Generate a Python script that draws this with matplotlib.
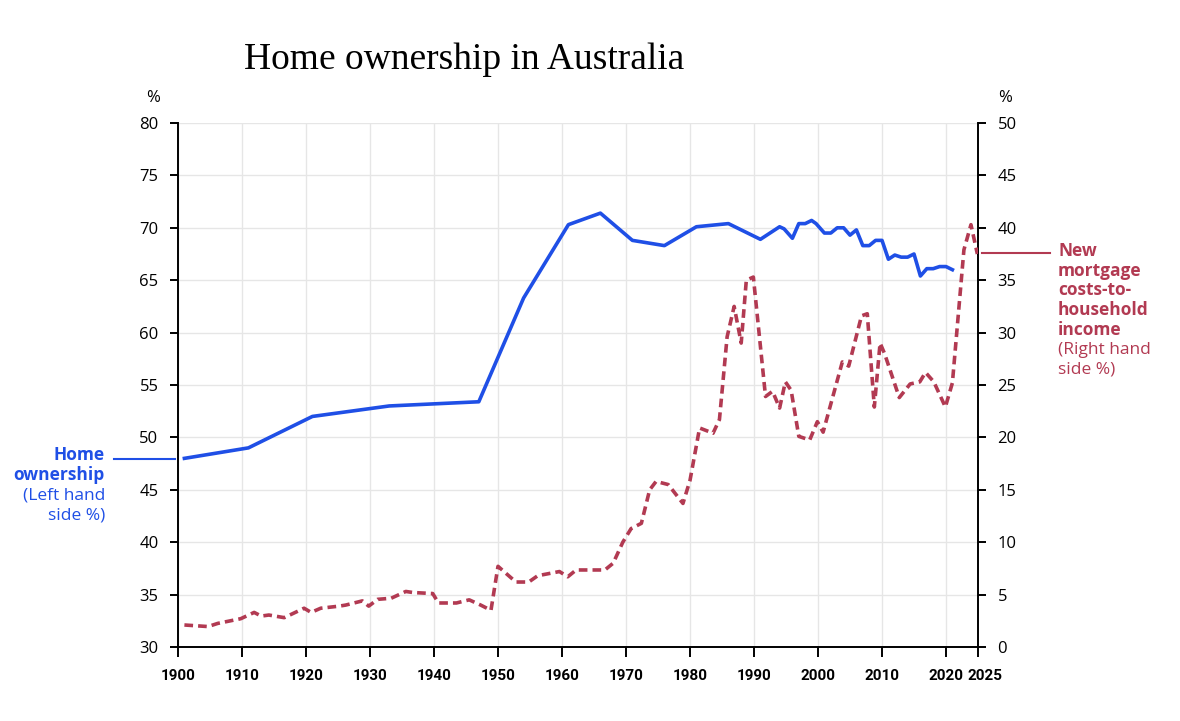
import matplotlib.pyplot as plt
import numpy as np

# Home ownership rate (left axis, %)
own_years = [1901, 1911, 1921, 1933, 1947, 1954, 1961, 1966, 1971, 1976, 1981, 1986,
             1991, 1994, 1994.7, 1996, 1997, 1998, 1999, 1999.7, 2001, 2002, 2003, 2004,
             2005, 2006, 2007, 2008, 2009, 2010, 2011, 2012, 2013, 2014, 2015, 2016,
             2017, 2018, 2019, 2020, 2021]
own_pct = [48.0, 49.0, 52.0, 53.0, 53.4, 63.3, 70.3, 71.4, 68.8, 68.3, 70.1, 70.4,
           68.9, 70.1, 69.9, 69.0, 70.4, 70.4, 70.7, 70.4, 69.5, 69.5, 70.0, 70.0,
           69.3, 69.8, 68.3, 68.3, 68.8, 68.8, 67.0, 67.4, 67.2, 67.2, 67.5, 65.4,
           66.1, 66.1, 66.3, 66.3, 66.0]

# New mortgage costs-to-household income (right axis, %)
mort_years = [1901, 1904.7, 1906.2, 1909.8, 1911.9, 1913, 1914.2, 1916.6, 1919.7, 1920.8,
              1922.3, 1925.2, 1926.2, 1928.8, 1929.8, 1931.2, 1933.3, 1935.6, 1936.7,
              1939.8, 1940.7, 1943.5, 1945.5, 1947.3, 1948.9, 1950, 1951.3, 1952.8,
              1954.8, 1956.2, 1959.6, 1960.9, 1962.2, 1966.7, 1968, 1969.5, 1970.8,
              1972.4, 1973.7, 1974.7, 1976.6, 1978.9, 1980, 1981.5, 1983.6, 1984.6,
              1985.8, 1986.9, 1988, 1988.8, 1989.9, 1991.8, 1992.9, 1994, 1994.9,
              1995.8, 1997, 1998.7, 1999.9, 2000.8, 2003.8, 2004.8, 2006.8, 2007.7,
              2008.8, 2009.7, 2010.4, 2012.7, 2014.4, 2015.9, 2016.8, 2018.1, 2019.9,
              2021, 2022.8, 2023.9, 2024.9]
mort_pct = [2.1, 1.95, 2.25, 2.7, 3.3, 2.95, 3.05, 2.8, 3.7, 3.3,
            3.7, 3.9, 4.0, 4.4, 3.9, 4.55, 4.65, 5.3, 5.2,
            5.1, 4.2, 4.2, 4.5, 4.0, 3.5, 7.7, 7.0, 6.2,
            6.2, 6.8, 7.2, 6.7, 7.35, 7.35, 8.0, 10.0, 11.3,
            11.8, 15.0, 15.8, 15.5, 13.7, 15.9, 20.9, 20.4, 21.7,
            29.6, 32.5, 29.0, 35.0, 35.3, 23.9, 24.4, 22.8, 25.3,
            24.5, 20.1, 19.75, 21.5, 20.5, 27.2, 26.8, 31.6, 31.8,
            22.9, 29.0, 28.0, 23.8, 25.1, 25.3, 26.2, 25.3, 22.9,
            25.2, 37.9, 40.3, 37.5]

x_ticks = [1900, 1910, 1920, 1930, 1940, 1950, 1960, 1970, 1980, 1990, 2000, 2010, 2020, 2025]
left_ticks = np.arange(30, 81, 5)
right_ticks = np.arange(0, 51, 5)

own_label = [("Home", "bold"), ("ownership", "bold"),
             ("(Left hand", "normal"), ("side %)", "normal")]
mort_label = [("New", "bold"), ("mortgage", "bold"), ("costs-to-", "bold"),
              ("household", "bold"), ("income", "bold"),
              ("(Right hand", "normal"), ("side %)", "normal")]

BLUE = "#1f4fe6"
RED = "#b23a52"
FONT = "Open Sans"
W, H = 1180, 721

fig = plt.figure(figsize=(11.8, 7.21), dpi=100)
ax = fig.add_axes([178 / W, 1 - 647 / H, 800 / W, 524 / H])
ax2 = ax.twinx()

ax.plot(own_years, own_pct, color=BLUE, lw=2.6, zorder=3)
ax2.plot(mort_years, mort_pct, color=RED, lw=2.6, ls=(0, (2.4, 1.4)), zorder=3)

ax.set_xlim(1900, 2025)
ax.set_ylim(30, 80)
ax2.set_ylim(0, 50)
ax.set_xticks(x_ticks)
ax.set_yticks(left_ticks)
ax2.set_yticks(right_ticks)
xlab_kw = dict(fontsize=11, fontweight="bold", family="Roboto")
# last label (2025) is drawn by hand below, nudged right so it clears 2020
ax.set_xticklabels([str(t) for t in x_ticks[:-1]] + [""], **xlab_kw)
ax.annotate(str(x_ticks[-1]), xy=(x_ticks[-1], 0), xycoords=("data", "axes fraction"),
            xytext=(7, -29), textcoords="offset pixels", ha="center", va="center",
            annotation_clip=False, **xlab_kw)
ax.set_yticklabels([str(t) for t in left_ticks], fontsize=12, family=FONT)
ax2.set_yticklabels([str(t) for t in right_ticks], fontsize=12, family=FONT)

ax.grid(True, color="#e6e6e6", lw=1.0, zorder=0)
ax.set_axisbelow(True)
for a in (ax, ax2):
    a.spines["top"].set_visible(False)
    for s in ("left", "right", "bottom"):
        a.spines[s].set_linewidth(1.4)
ax.spines["right"].set_visible(False)
ax2.spines["left"].set_visible(False)
ax2.spines["bottom"].set_visible(False)
ax.tick_params(axis="y", length=6, width=1.4, pad=8)
ax.tick_params(axis="x", length=7, width=1.4, pad=9)
ax2.tick_params(axis="y", length=6, width=1.4, pad=8)

# unit labels above the axes
fig.text(153 / W, 1 - 98 / H, "%", ha="center", va="center", fontsize=12, family=FONT)
fig.text(1005 / W, 1 - 98 / H, "%", ha="center", va="center", fontsize=12, family=FONT)

fig.text(464 / W, 1 - 60 / H, "Home ownership in Australia", ha="center", va="center",
         fontsize=27, family="Liberation Serif")

# series labels with leader lines
fig.add_artist(plt.Line2D([114 / W, 175 / W], [1 - 459 / H] * 2, color=BLUE, lw=1.5))
for i, (txt, wt) in enumerate(own_label):
    fig.text(105 / W, 1 - (455 + 20 * i) / H, txt, ha="right", va="center",
             fontsize=12.5, fontweight=wt, color=BLUE, family=FONT)

fig.add_artist(plt.Line2D([982 / W, 1050 / W], [1 - 253 / H] * 2, color=RED, lw=1.5))
for i, (txt, wt) in enumerate(mort_label):
    fig.text(1058 / W, 1 - (251 + 19.7 * i) / H, txt, ha="left", va="center",
             fontsize=12.5, fontweight=wt, color=RED, family=FONT)

fig.savefig("out.png", dpi=100)
